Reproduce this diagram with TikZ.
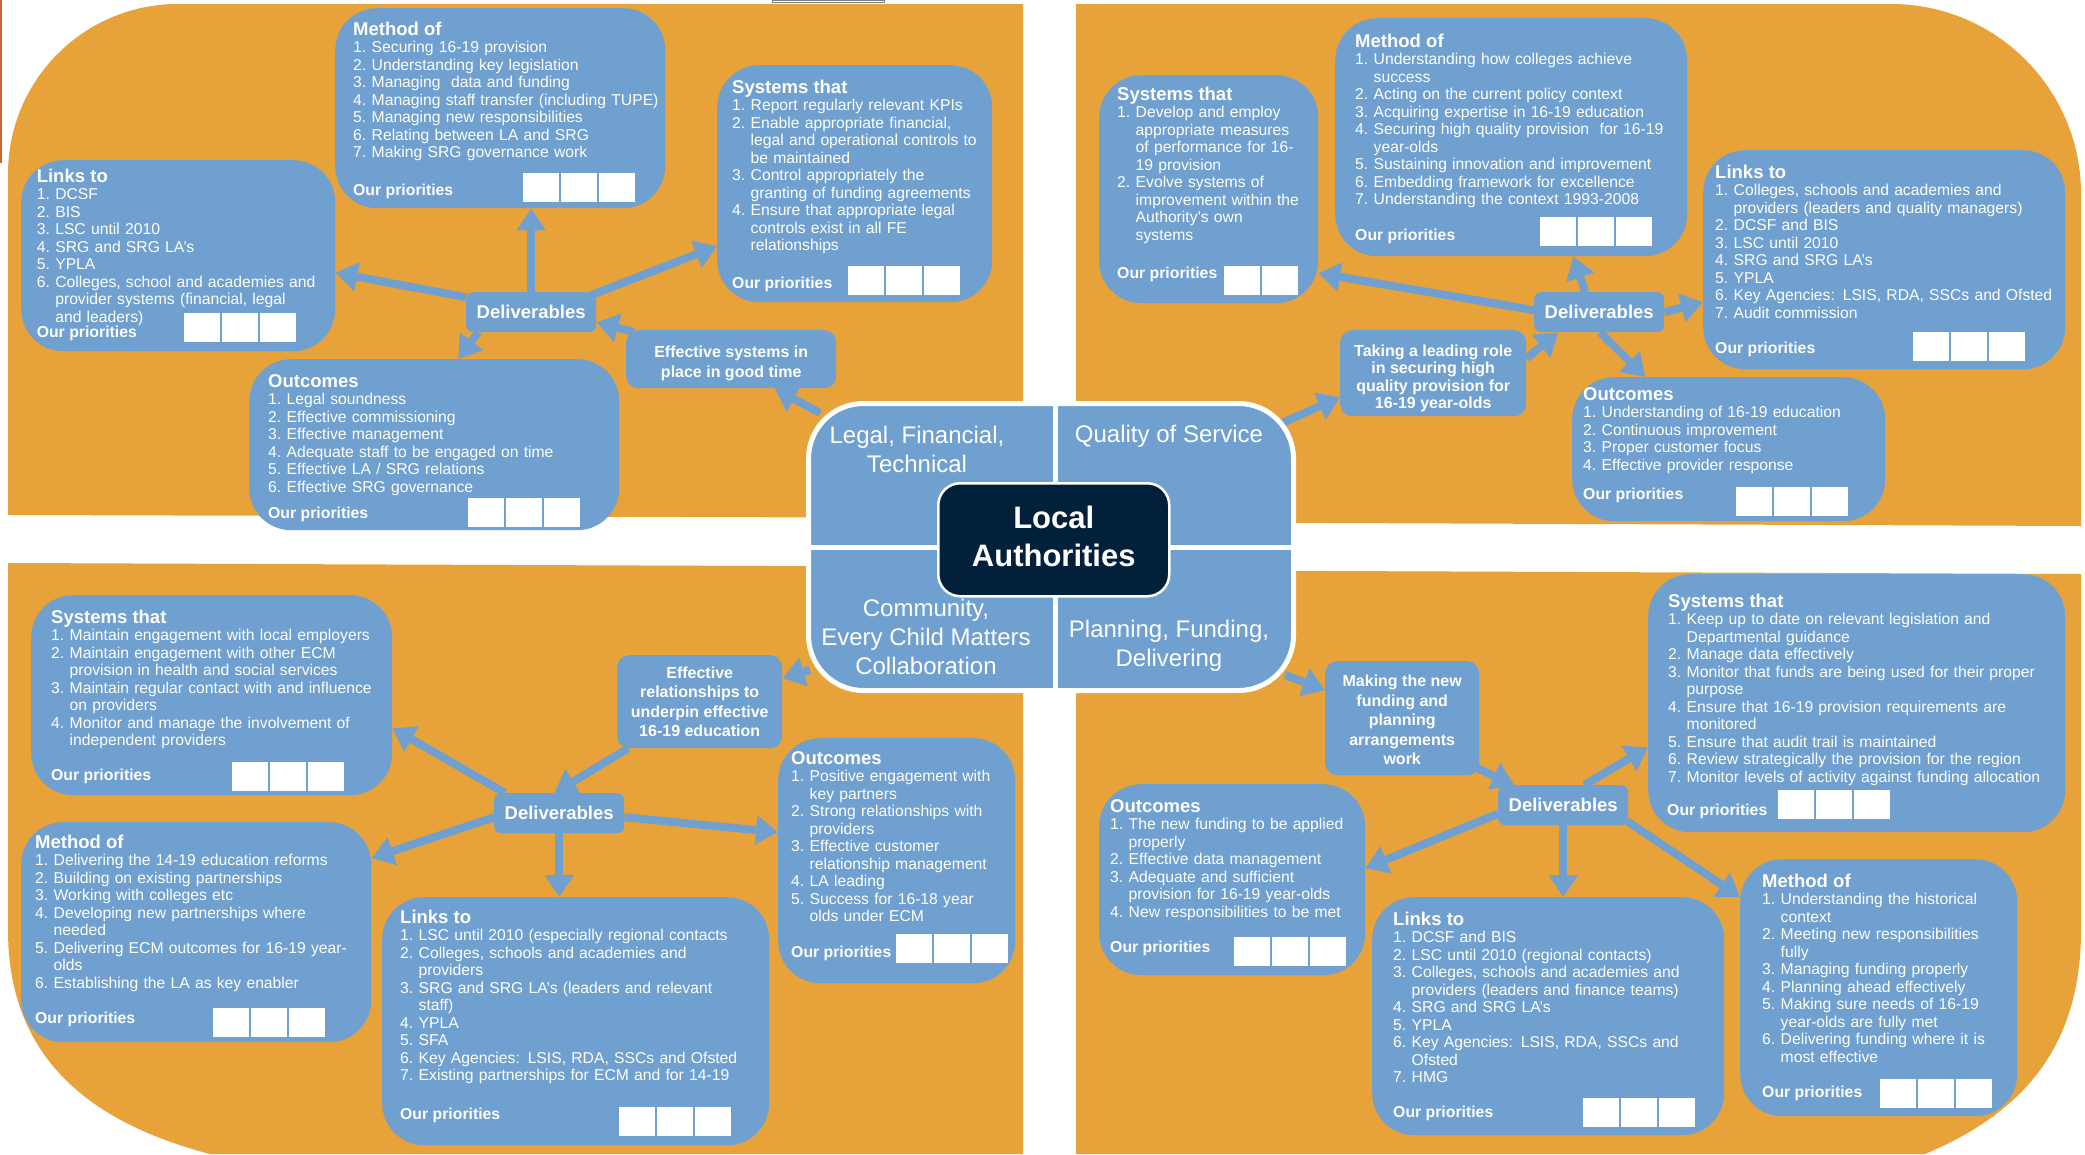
\documentclass[tikz,border=0pt]{standalone}
\usepackage{fontspec}
\setmainfont{Liberation Sans}
\usetikzlibrary{arrows.meta,calc}
\definecolor{org}{HTML}{E8A23A}
\definecolor{blu}{HTML}{6FA0CF}
\definecolor{navy}{HTML}{03203A}
\pgfdeclarelayer{bgl}
\pgfdeclarelayer{arl}
\pgfsetlayers{bgl,arl,main}
\newlength{\hind}\setlength{\hind}{18.5pt}
\newcommand{\itf}{\fontsize{15.7}{17.5}\selectfont}
\newcommand{\prf}{\fontsize{15.8}{18}\selectfont\bfseries}
\newcommand{\dvf}{\fontsize{18.5}{20}\selectfont\bfseries}
\newcommand{\lbf}{\fontsize{16}{19.5}\selectfont\bfseries}
\newcommand{\qlf}{\fontsize{24}{29}\selectfont}
\newcommand{\laf}{\fontsize{31}{38}\selectfont\bfseries}
\newcommand{\ttl}[1]{{\fontsize{18.5}{18}\selectfont\bfseries #1\par}}
\newcommand{\lit}[2]{\hangindent=\hind\hangafter=1\noindent\makebox[\hind][l]{#1.}#2\par}
\newcommand{\nln}{\hfil\break}
\newcommand{\sqs}[2]{\foreach \k in {0,1,2}{\fill[white] ({#1+38*\k},{#2}) rectangle ++(36,29);}}
\newcommand{\sqtwo}[2]{\foreach \k in {0,1}{\fill[white] ({#1+38*\k},{#2}) rectangle ++(36,29);}}
\begin{document}
\begin{tikzpicture}[x=1pt,y=-1pt,
 bb/.style 2 args={fill=blu, rounded corners=42pt, minimum width=#1, minimum height=#2, inner sep=0pt, anchor=north west},
 lb/.style 2 args={fill=blu, rounded corners=12pt, minimum width=#1, minimum height=#2, inner sep=0pt, anchor=north west},
 lbt/.style={inner sep=0pt, text=white, align=center, font=\lbf},
 dv/.style={fill=blu, rounded corners=7pt, minimum width=130pt, minimum height=40pt, inner sep=0pt, anchor=north west, text=white, font=\dvf},
 txt/.style={anchor=base west, inner sep=0pt, text width=560pt, align=left, text=white, font=\itf},
 pr/.style={anchor=base west, inner sep=0pt, text=white, font=\prf},
 ql/.style={text=white, align=center, font=\qlf, inner sep=0pt},
 arr/.style={draw=blu, line width=8pt, -{Triangle[length=22pt,width=28pt]}}
]
\useasboundingbox (0,0) rectangle (2085,1154);
\begin{pgfonlayer}{bgl}
\fill[white] (0,0) rectangle (2085,1154);
\fill[org] (8,515) -- (8,174) .. controls (8,80) and (84,4) .. (178,4) -- (1023,4) -- (1023,518) -- cycle;
\fill[org] (1076,4) -- (1891,4) .. controls (1996,4) and (2081,89) .. (2081,194) -- (2081,526) -- (1076,522) -- cycle;
\fill[org] (8,563) -- (1023,567) -- (1023,1154) -- (210,1154) .. controls (80,1120) and (8,1050) .. (8,930) -- cycle;
\fill[org] (1076,570) -- (2081,574) -- (2081,930) .. controls (2081,1040) and (2030,1110) .. (1925,1154) -- (1076,1154) -- cycle;
\draw[brown!80!red, line width=1.5pt] (1,0) -- (1,163);
\draw[gray, line width=1pt] (772,0) rectangle (884,2);
\end{pgfonlayer}

% ---------- centre block
\node[fill=blu, draw=white, line width=5pt, rounded corners=55pt, minimum width=485pt, minimum height=287pt, anchor=north west, inner sep=0pt] (cen) at (806,401) {};
\draw[white, line width=5pt] ($(cen.north)+(4,0)$) -- ($(cen.south)+(4,0)$);
\draw[white, line width=5pt] (cen.west) -- (cen.east);
\node[fill=navy, draw=white, line width=2.5pt, rounded corners=22pt, minimum width=231pt, minimum height=113pt, anchor=north west, inner sep=0pt] (la) at (937,482) {};
\node[inner sep=0pt, text=white, align=center, font=\laf] (laT) at ($(la.center)+(0,-3)$) {Local\\Authorities};
\node[ql] (q1) at (917,449) {Legal, Financial,\\Technical};
\node[ql, anchor=base] (q2) at (1169,442) {Quality of Service};
\node[ql] (q3) at (926,637) {Community,\\Every Child Matters\\Collaboration};
\node[ql] (q4) at (1169,646) {Planning, Funding,\\Delivering};

% ---------- top left
\node[bb={330}{200}] (tlm) at (335,8) {};
\node[bb={314}{191}] (tll) at (21,160) {};
\node[bb={275}{237}] (tls) at (717,65) {};
\node[bb={370}{171}] (tlo) at (249,359) {};
\node[dv] (tld) at (466,292) {Deliverables};
\node[lb={210}{58}] (tle) at (626,330) {};
\node[lbt] (tleT) at ($(tle.center)+(0,4)$) {Effective systems in\\place in good time};

\node[txt] (tlmT) at (353,35) {\ttl{Method of}\lit{1}{Securing 16-19 provision}\lit{2}{Understanding key legislation}\lit{3}{Managing\ \ data and funding}\lit{4}{Managing staff transfer (including TUPE)}\lit{5}{Managing new responsibilities}\lit{6}{Relating between LA and SRG}\lit{7}{Making SRG governance work}};
\node[pr] (tlmP) at (353,195) {Our priorities};
\sqs{523}{173}

\node[txt] (tllT) at (36.6,182) {\ttl{Links to}\lit{1}{DCSF}\lit{2}{BIS}\lit{3}{LSC until 2010}\lit{4}{SRG and SRG LA’s}\lit{5}{YPLA}\lit{6}{Colleges, school and academies and\nln provider systems (financial, legal\nln and leaders)}};
\node[pr] (tllP) at (36.6,337) {Our priorities};
\sqs{184}{313}

\node[txt] (tlsT) at (732,93) {\ttl{Systems that}\lit{1}{Report regularly relevant KPIs}\lit{2}{Enable appropriate financial,\nln legal and operational controls to\nln be maintained}\lit{3}{Control appropriately the\nln granting of funding agreements}\lit{4}{Ensure that appropriate legal\nln controls exist in all FE\nln relationships}};
\node[pr] (tlsP) at (732,288) {Our priorities};
\sqs{848}{266}

\node[txt] (tloT) at (268,387) {\ttl{Outcomes}\lit{1}{Legal soundness}\lit{2}{Effective commissioning}\lit{3}{Effective management}\lit{4}{Adequate staff to be engaged on time}\lit{5}{Effective LA / SRG relations}\lit{6}{Effective SRG governance}};
\node[pr] (tloP) at (268,518) {Our priorities};
\sqs{468}{498}

% ---------- top right
\node[bb={219}{228}] (trs) at (1099,75) {};
\node[bb={352}{238}] (trm) at (1335,18) {};
\node[bb={362}{219}] (trl) at (1703,150) {};
\node[bb={313}{144}] (tro) at (1572,377) {};
\node[dv] (trd) at (1534,292) {Deliverables};
\node[lb={186}{86}] (trt) at (1340,330) {};
\node[lbt, font=\fontsize{16}{17.5}\selectfont\bfseries] (trtT) at ($(trt.center)+(0,5)$) {Taking a leading role\\in securing high\\quality provision for\\16-19 year-olds};

\node[txt] (trsT) at (1117,100) {\ttl{Systems that}\lit{1}{Develop and employ\nln appropriate measures\nln of performance for 16-\nln 19 provision}\lit{2}{Evolve systems of\nln improvement within the\nln Authority’s own\nln systems}};
\node[pr] (trsP) at (1117,278) {Our priorities};
\sqtwo{1224}{266}

\node[txt] (trmT) at (1355,47) {\ttl{Method of}\lit{1}{Understanding how colleges achieve\nln success}\lit{2}{Acting on the current policy context}\lit{3}{Acquiring expertise in 16-19 education}\lit{4}{Securing high quality provision\ \ for 16-19\nln year-olds}\lit{5}{Sustaining innovation and improvement}\lit{6}{Embedding framework for excellence}\lit{7}{Understanding the context 1993-2008}};
\node[pr] (trmP) at (1355,240) {Our priorities};
\sqs{1540}{217}

\node[txt] (trlT) at (1715,178) {\ttl{Links to}\lit{1}{Colleges, schools and academies and\nln providers (leaders and quality managers)}\lit{2}{DCSF and BIS}\lit{3}{LSC until 2010}\lit{4}{SRG and SRG LA’s}\lit{5}{YPLA}\lit{6}{Key Agencies: LSIS, RDA, SSCs and Ofsted}\lit{7}{Audit commission}};
\node[pr] (trlP) at (1715,353) {Our priorities};
\sqs{1913}{332}

\node[txt] (troT) at (1583,400) {\ttl{Outcomes}\lit{1}{Understanding of 16-19 education}\lit{2}{Continuous improvement}\lit{3}{Proper customer focus}\lit{4}{Effective provider response}};
\node[pr] (troP) at (1583,499) {Our priorities};
\sqs{1736}{487}

% ---------- bottom left
\node[bb={361}{200}] (bls) at (31,595) {};
\node[bb={350}{220}] (blm) at (21,822) {};
\node[bb={387}{248}] (bll) at (382,897) {};
\node[bb={237}{245}] (blo) at (778,738) {};
\node[dv] (bld) at (494,793) {Deliverables};
\node[lb={165}{93}] (ble) at (617,655) {};
\node[lbt] (bleT) at (ble.center) {Effective\\relationships to\\underpin effective\\16-19 education};

\node[txt] (blsT) at (51,623) {\ttl{Systems that}\lit{1}{Maintain engagement with local employers}\lit{2}{Maintain engagement with other ECM\nln provision in health and social services}\lit{3}{Maintain regular contact with and influence\nln on providers}\lit{4}{Monitor and manage the involvement of\nln independent providers}};
\node[pr] (blsP) at (51,780) {Our priorities};
\sqs{232}{762}

\node[txt] (blmT) at (35,848) {\ttl{Method of}\lit{1}{Delivering the 14-19 education reforms}\lit{2}{Building on existing partnerships}\lit{3}{Working with colleges etc}\lit{4}{Developing new partnerships where\nln needed}\lit{5}{Delivering ECM outcomes for 16-19 year-\nln olds}\lit{6}{Establishing the LA as key enabler}};
\node[pr] (blmP) at (35,1023) {Our priorities};
\sqs{213}{1008}

\node[txt] (bllT) at (400,923) {\ttl{Links to}\lit{1}{LSC until 2010 (especially regional contacts}\lit{2}{Colleges, schools and academies and\nln providers}\lit{3}{SRG and SRG LA’s (leaders and relevant\nln staff)}\lit{4}{YPLA}\lit{5}{SFA}\lit{6}{Key Agencies: LSIS, RDA, SSCs and Ofsted}\lit{7}{Existing partnerships for ECM and for 14-19}};
\node[pr] (bllP) at (400,1119) {Our priorities};
\sqs{619}{1107}

\node[txt] (bloT) at (791,764) {\ttl{Outcomes}\lit{1}{Positive engagement with\nln key partners}\lit{2}{Strong relationships with\nln providers}\lit{3}{Effective customer\nln relationship management}\lit{4}{LA leading}\lit{5}{Success for 16-18 year\nln olds under ECM}};
\node[pr] (bloP) at (791,957) {Our priorities};
\sqs{896}{934}

% ---------- bottom right
\node[bb={417}{258}] (brs) at (1648,574) {};
\node[bb={266}{191}] (bro) at (1099,784) {};
\node[bb={352}{238}] (brl) at (1372,897) {};
\node[bb={277}{257}] (brm) at (1740,859) {};
\node[dv] (brd) at (1498,785) {Deliverables};
\node[lb={154}{114}] (brk) at (1325,661) {};
\node[lbt] (brkT) at ($(brk.center)+(0,2)$) {Making the new\\funding and\\planning\\arrangements\\work};

\node[txt] (brsT) at (1668,607) {\ttl{Systems that}\lit{1}{Keep up to date on relevant legislation and\nln Departmental guidance}\lit{2}{Manage data effectively}\lit{3}{Monitor that funds are being used for their proper\nln purpose}\lit{4}{Ensure that 16-19 provision requirements are\nln monitored}\lit{5}{Ensure that audit trail is maintained}\lit{6}{Review strategically the provision for the region}\lit{7}{Monitor levels of activity against funding allocation}};
\node[pr] (brsP) at (1667,815) {Our priorities};
\sqs{1778}{790}

\node[txt] (broT) at (1110,812) {\ttl{Outcomes}\lit{1}{The new funding to be applied\nln properly}\lit{2}{Effective data management}\lit{3}{Adequate and sufficient\nln provision for 16-19 year-olds}\lit{4}{New responsibilities to be met}};
\node[pr] (broP) at (1110,952) {Our priorities};
\sqs{1234}{937}

\node[txt] (brlT) at (1393,925) {\ttl{Links to}\lit{1}{DCSF and BIS}\lit{2}{LSC until 2010 (regional contacts)}\lit{3}{Colleges, schools and academies and\nln providers (leaders and finance teams)}\lit{4}{SRG and SRG LA’s}\lit{5}{YPLA}\lit{6}{Key Agencies: LSIS, RDA, SSCs and\nln Ofsted}\lit{7}{HMG}};
\node[pr] (brlP) at (1393,1117) {Our priorities};
\sqs{1583}{1098}

\node[txt] (brmT) at (1762,887) {\ttl{Method of}\lit{1}{Understanding the historical\nln context}\lit{2}{Meeting new responsibilities\nln fully}\lit{3}{Managing funding properly}\lit{4}{Planning ahead effectively}\lit{5}{Making sure needs of 16-19\nln year-olds are fully met}\lit{6}{Delivering funding where it is\nln most effective}};
\node[pr] (brmP) at (1762,1097) {Our priorities};
\sqs{1880}{1079}

% ---------- connectors
\begin{pgfonlayer}{arl}
\draw[arr] (tld.north) -- (tld.north |- tlm.south);
\draw[arr] ($(tld.west)+(0,-15)$) -- ($(tll.east)+(0,17)$);
\draw[arr] ($(tld.north east)+(-5,3)$) -- ($(tls.west)+(0,62.5)$);
\draw[arr] ($(tld.south)+(-53,0)$) -- ($(tlo.north)+(24,0)$);
\draw[arr] ($(tle.north west)+(8,2)$) -- ($(tld.east)+(0,10)$);
\draw[arr] ($(cen.north west)+(14,12)$) -- ($(tle.south east)+(-62,0)$);

\draw[arr] ($(trd.north)+(-14,0)$) -- ($(trm.south)+(62,0)$);
\draw[arr] ($(trd.west)+(0,-2)$) -- ($(trs.east)+(0,84)$);
\draw[arr] (trd.east) -- ($(trl.west)+(0,42.5)$);
\draw[arr] ($(trd.south)+(1,0)$) -- ($(tro.north)+(-83.5,0)$);
\draw[arr] ($(trt.east)+(0,-15)$) -- ($(trd.south)+(-41,0)$);
\draw[arr] ($(cen.north east)+(-14,22)$) -- ($(trt.west)+(0,24)$);

\draw[arr] ($(cen.south west)+(4,-23)$) -- ($(ble.east)+(0,-23.5)$);
\draw[arr] ($(ble.south west)+(11,0)$) -- ($(bld.north)+(-5,0)$);
\draw[arr] ($(bld.north west)+(11,0)$) -- ($(bls.east)+(0,33)$);
\draw[arr] ($(bld.west)+(0,4)$) -- ($(blm.east)+(0,-74)$);
\draw[arr] (bld.south) -- (bld.south |- bll.north);
\draw[arr] ($(bld.east)+(0,4)$) -- ($(blo.west)+(0,-28.5)$);

\draw[arr] ($(cen.south east)+(-11,-18)$) -- ($(brk.west)+(0,-28)$);
\draw[arr] ($(brk.south east)+(-4,-8)$) -- ($(brd.north)+(-49,0)$);
\draw[arr] ($(brd.north)+(21,0)$) -- ($(brs.west)+(0,44)$);
\draw[arr] ($(brd.west)+(0,8.5)$) -- ($(bro.east)+(0,-11.5)$);
\draw[arr] (brd.south) -- (brd.south |- brl.north);
\draw[arr] ($(brd.south east)+(-1,-4)$) -- ($(brm.north west)+(0,38)$);
\end{pgfonlayer}
\end{tikzpicture}
\end{document}
